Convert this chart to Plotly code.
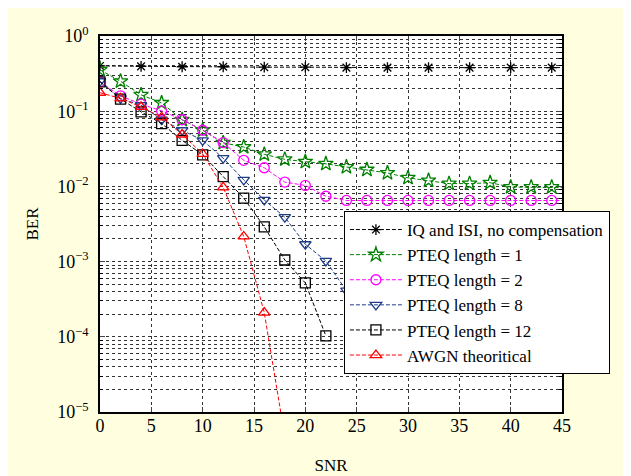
import plotly.graph_objects as go

# ---- data ----
x_iq = [0, 4, 8, 12, 16, 20, 24, 28, 32, 36, 40, 44, 48]
ber_iq = [0.40, 0.395, 0.39, 0.39, 0.385, 0.385, 0.38, 0.38, 0.38, 0.38, 0.38, 0.38, 0.38]

x_p1 = [0, 2, 4, 6, 8, 10, 12, 14, 16, 18, 20, 22, 24, 26, 28, 30, 32, 34, 36, 38, 40, 42, 44, 46]
ber_p1 = [0.355, 0.25, 0.165, 0.129, 0.077, 0.056, 0.038, 0.0334, 0.0267, 0.0229, 0.0213, 0.020,
          0.0181, 0.0167, 0.0151, 0.0130, 0.0120, 0.0109, 0.0109, 0.0112, 0.0098, 0.0098, 0.0098, 0.0096]

x_p2 = [0, 2, 4, 6, 8, 10, 12, 14, 16, 18, 20, 22, 24, 26, 28, 30, 32, 34, 36, 38, 40, 42, 44, 46]
ber_p2 = [0.246, 0.16, 0.124, 0.101, 0.077, 0.0558, 0.0382, 0.0222, 0.0177, 0.0114, 0.0103, 0.0074,
          0.0065, 0.0065, 0.0065, 0.0065, 0.0065, 0.0065, 0.0065, 0.0065, 0.0065, 0.0065, 0.0065, 0.0065]

x_p8 = [0, 2, 4, 6, 8, 10, 12, 14, 16, 18, 20, 22, 24, 26]
ber_p8 = [0.25, 0.148, 0.12, 0.077, 0.0558, 0.041, 0.0237, 0.0122, 0.0066, 0.0039, 0.0017, 0.00102, 0.00041, 0.0001]

x_p12 = [0, 2, 4, 6, 8, 10, 12, 14, 16, 18, 20, 22]
ber_p12 = [0.246, 0.145, 0.098, 0.0685, 0.041, 0.0263, 0.0135, 0.0070, 0.0029, 0.00105, 0.00052, 0.000103]

x_awgn = [0, 2, 4, 6, 8, 10, 12, 14, 16, 18]
ber_awgn = [0.176, 0.148, 0.114, 0.083, 0.049, 0.027, 0.0097, 0.00216, 0.00021, 4.7e-6]

x_ticks = [0, 5, 10, 15, 20, 25, 30, 35, 40, 45]
y_tickvals = [1, 1e-1, 1e-2, 1e-3, 1e-4, 1e-5]
y_ticktext = ["10<sup>0</sup>", "10<sup>−1</sup>", "10<sup>−2</sup>", "10<sup>−3</sup>",
              "10<sup>−4</sup>", "10<sup>−5</sup>"]

series = [
    ("IQ and ISI, no compensation", x_iq, ber_iq, "#000000", "asterisk-open", 9),
    ("PTEQ length = 1", x_p1, ber_p1, "#008000", "star-open", 11),
    ("PTEQ length = 2", x_p2, ber_p2, "#FF00FF", "circle-open", 10),
    ("PTEQ length = 8", x_p8, ber_p8, "#1F3C88", "triangle-down-open", 10),
    ("PTEQ length = 12", x_p12, ber_p12, "#000000", "square-open", 10),
    ("AWGN theoritical", x_awgn, ber_awgn, "#FF0000", "triangle-up-open", 10),
]

FONT = "Liberation Serif"

fig = go.Figure()
for name, xs, ys, col, sym, sz in series:
    fig.add_trace(go.Scatter(
        x=xs, y=ys, name=name, mode="lines+markers",
        line=dict(color=col, width=1, dash="4px,2px"),
        marker=dict(symbol=sym, size=sz, color=col, line=dict(color=col, width=1.3)),
    ))

fig.update_layout(
    width=631, height=476,
    margin=dict(l=92, r=77, t=28, b=72, pad=0),
    paper_bgcolor="#FFFFE0",
    plot_bgcolor="#FFFFFF",
    font=dict(family=FONT, size=17, color="#000000"),
    showlegend=True,
    legend=dict(
        x=0.528, y=0.5346, xanchor="left", yanchor="top",
        bgcolor="#FFFFFF", bordercolor="#000000", borderwidth=1,
        font=dict(family=FONT, size=17, color="#000000"),
        itemwidth=52, tracegroupgap=0,
    ),
    xaxis=dict(
        range=[0, 45], tickvals=x_ticks, ticks="inside", ticklen=5,
        showline=True, linecolor="#000000", linewidth=1.5, mirror="ticks",
        showgrid=True, gridcolor="#333333", griddash="dot", gridwidth=1,
        zeroline=False,
        tickfont=dict(family=FONT, size=18),
        ticklabelstandoff=-3,
        title=dict(text="SNR", font=dict(family=FONT, size=17), standoff=24),
    ),
    yaxis=dict(
        type="log", range=[-5, 0], tickvals=y_tickvals, ticktext=y_ticktext,
        ticks="inside", ticklen=5,
        showline=True, linecolor="#000000", linewidth=1.5, mirror="ticks",
        showgrid=True, gridcolor="#333333", griddash="dot", gridwidth=1,
        minor=dict(dtick="D1", showgrid=True, gridcolor="#333333", griddash="dot", gridwidth=1,
                   ticks="inside", ticklen=3, tickcolor="#000000"),
        zeroline=False,
        tickfont=dict(family=FONT, size=18),
        ticklabelstandoff=6,
        title=dict(text="BER", font=dict(family=FONT, size=17), standoff=14),
    ),
)

fig.write_html("out.html")
